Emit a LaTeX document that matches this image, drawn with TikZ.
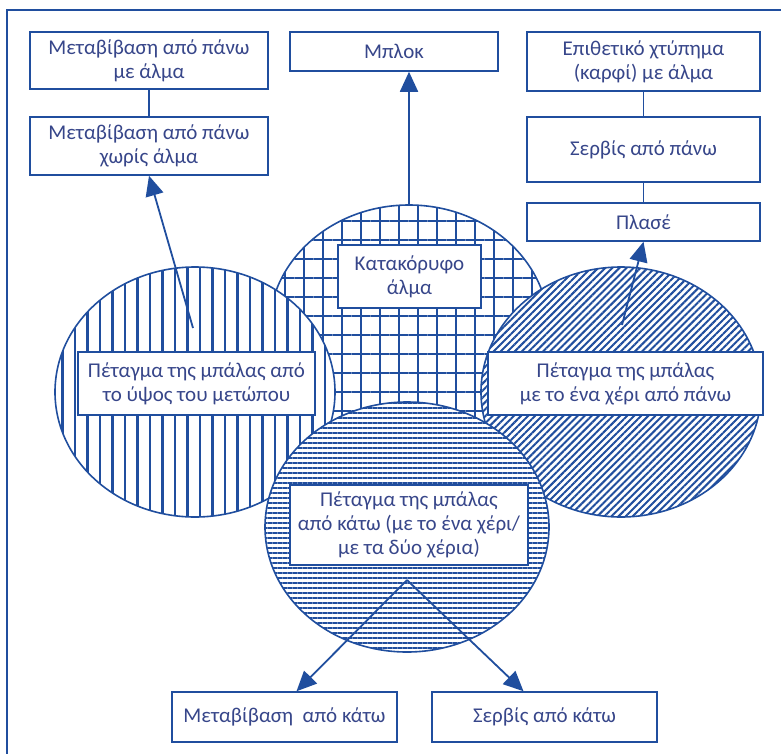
\documentclass[tikz,border=0pt]{standalone}
\usepackage{fontspec}
\setmainfont{Carlito}
\usetikzlibrary{arrows.meta,patterns.meta}
\definecolor{vblue}{RGB}{32,78,158}
\definecolor{vtext}{RGB}{55,70,138}

\begin{document}
\begin{tikzpicture}[x=1pt, y=-1pt,
  box/.style={draw=vblue, line width=1.5pt, fill=white, text=vtext, align=center,
    inner sep=0pt, font=\fontsize{21}{24}\selectfont},
  disc/.style={draw=vblue, line width=1.6pt, preaction={fill=white}, pattern color=vblue},
  arr/.style={draw=vblue, line width=1.8pt, -{Triangle[length=20pt, width=18pt]}},
  link/.style={draw=vblue, line width=1.8pt}]
  \useasboundingbox (0,0) rectangle (781,753);
  % frame
  \begin{scope}
    \clip (0,0) rectangle (781,753);
    \draw[vblue, line width=1.2pt] (7,10) rectangle (800,780);
  \end{scope}
  % circles
  \draw[disc, pattern={Hatch[distance=19pt, line width=2.2pt]}] (409,330) ellipse [x radius=140pt, y radius=125pt];
  \draw[disc, pattern={Lines[distance=12.5pt, angle=90, line width=2.5pt]}] (195,392) ellipse [x radius=140pt, y radius=125pt];
  \draw[disc, pattern={Lines[distance=5pt, angle=45, line width=2pt]}] (621,392) ellipse [x radius=140pt, y radius=125pt];
  \draw[disc, pattern={Lines[distance=5pt, angle=0, line width=2pt]}] (407,527) ellipse [x radius=142pt, y radius=125pt];
  % arrow tails
  \coordinate (frontTail) at (193,328);
  \coordinate (jumpTail) at (409,205);
  \coordinate (overTail) at (622,325);
  \coordinate (underTail) at (407,580);
  % upper boxes
  \node[box, minimum width=238pt, minimum height=57pt] (mvJump) at (149,60.5) {Μεταβίβαση από πάνω\\με άλμα};
  \node[box, minimum width=238pt, minimum height=58pt] (mvNoJump) at (149,146) {Μεταβίβαση από πάνω\\χωρίς άλμα};
  \node[box, minimum width=208pt, minimum height=39pt] (block) at (394,51.5) {Μπλοκ};
  \node[box, minimum width=233pt, minimum height=59pt] (spike) at (643.5,61.5) {Επιθετικό χτύπημα\\(καρφί) με άλμα};
  \node[box, minimum width=233pt, minimum height=65pt] (serveTop) at (643.5,149.5) {Σερβίς από πάνω};
  \node[box, minimum width=233pt, minimum height=38pt] (plase) at (643.5,222) {Πλασέ};
  % connectors
  \draw[link] (mvJump) -- (mvNoJump);
  \draw[link] (spike) -- (serveTop);
  \draw[link] (serveTop) -- (plase);
  \draw[arr] (frontTail) -- (mvNoJump.south);
  \draw[arr] (jumpTail) -- (jumpTail |- block.south);
  \draw[arr] (overTail) -- (plase.south);
  % circle labels
  \node[box, minimum width=143pt, minimum height=63pt] (vertJump) at (409.5,276.5) {Κατακόρυφο\\άλμα};
  \node[box, minimum width=237pt, minimum height=63pt] (frontThrow) at (196.5,383.5) {Πέταγμα της μπάλας από\\το ύψος του μετώπου};
  \node[box, minimum width=275pt, minimum height=63pt] (overThrow) at (625.5,383.5) {Πέταγμα της μπάλας\\με το ένα χέρι από πάνω};
  \node[box, minimum width=238pt, minimum height=80pt] (underThrow) at (409,525) {Πέταγμα της μπάλας\\από κάτω (με το ένα χέρι/\\με τα δύο χέρια)};
  % lower boxes
  \node[box, minimum width=225pt, minimum height=50pt] (passLow) at (284.5,717) {Μεταβίβαση~ από κάτω};
  \node[box, minimum width=225pt, minimum height=50pt] (serveLow) at (544.5,717) {Σερβίς από κάτω};
  \draw[arr] (underTail) -- ([xshift=12pt]passLow.north);
  \draw[arr] (underTail) -- ([xshift=-21pt]serveLow.north);
\end{tikzpicture}
\end{document}
